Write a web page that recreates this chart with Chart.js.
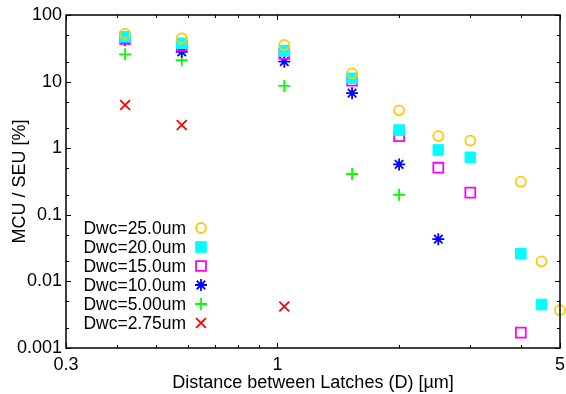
<!DOCTYPE html>
<html>
<head>
<meta charset="utf-8">
<script src="https://cdn.jsdelivr.net/npm/chart.js@4"></script>
<style>
  html, body { margin: 0; padding: 0; background: #fff; }
  #wrap { width: 566px; height: 394px; }
</style>
</head>
<body>
<div id="wrap"><canvas id="chart" width="566" height="394"></canvas></div>
<script>
// distance between latches (um), one column per measured distance
var distances = [0.42, 0.58, 1.04, 1.53, 2.0, 2.5, 3.0, 4.0, 4.5, 5.0];

// MCU / SEU ratio [%] for each well-contact distance
var dwc250 = [52, 44.7, 35.5, 13.3, 3.7, 1.52, 1.30, 0.314, 0.02, 0.0037];
var dwc200 = [47, 37.6, 29, 11.2, 1.87, 0.94, 0.73, 0.026, 0.0045, null];
var dwc150 = [43.6, 34.6, 26, 10.3, 1.52, 0.51, 0.215, 0.0017, null, null];
var dwc100 = [42, 28, 19.9, 6.7, 0.57, 0.043, null, null, null, null];
var dwc050 = [25.7, 21, 8.6, 0.41, 0.2, null, null, null, null, null];
var dwc275 = [4.45, 2.23, 0.0042, null, null, null, null, null, null, null];

var labels = ['Dwc=25.0um', 'Dwc=20.0um', 'Dwc=15.0um', 'Dwc=10.0um', 'Dwc=5.00um', 'Dwc=2.75um'];

// tick labels and minor ticks
var xTicks = [0.3, 1, 5];
var xMinor = [0.4, 0.5, 0.6, 0.7, 0.8, 0.9, 2, 3, 4];
var yTicks = [0.001, 0.01, 0.1, 1, 10, 100];
var yMinor = [0.002, 0.005, 0.02, 0.05, 0.2, 0.5, 2, 5, 20, 50];

var FONT = '"Liberation Sans", Arial, Helvetica, sans-serif';

function points(values) {
    var pts = [];
    for (var i = 0; i < distances.length; i++) {
        if (values[i] !== null) pts.push({x: distances[i], y: values[i]});
    }
    return pts;
}

function series(label, values, color, style, radius, filled, width) {
    return {
        label: label,
        data: points(values),
        pointStyle: style,
        pointRadius: radius,
        pointHoverRadius: radius,
        pointBorderColor: color,
        pointBackgroundColor: filled ? color : 'rgba(0,0,0,0)',
        pointBorderWidth: width,
        borderColor: color,
        backgroundColor: filled ? color : 'rgba(0,0,0,0)',
        showLine: false,
        clip: false
    };
}

// frame, inward ticks on all four sides
var framePlugin = {
    id: 'frame',
    afterDraw: function(chart) {
        var ctx = chart.ctx;
        var a = chart.chartArea;
        var xs = chart.scales.x, ys = chart.scales.y;
        ctx.save();
        ctx.strokeStyle = '#000';
        ctx.lineWidth = 1.5;
        ctx.strokeRect(a.left, a.top, a.right - a.left, a.bottom - a.top);
        ctx.lineWidth = 1;
        ctx.beginPath();
        function xt(v, len) {
            var p = Math.round(xs.getPixelForValue(v)) + 0.5;
            ctx.moveTo(p, a.bottom); ctx.lineTo(p, a.bottom - len);
            ctx.moveTo(p, a.top); ctx.lineTo(p, a.top + len);
        }
        function yt(v, len) {
            var p = Math.round(ys.getPixelForValue(v)) + 0.5;
            ctx.moveTo(a.left, p); ctx.lineTo(a.left + len, p);
            ctx.moveTo(a.right, p); ctx.lineTo(a.right - len, p);
        }
        xTicks.forEach(function(v) { xt(v, 5); });
        xMinor.forEach(function(v) { xt(v, 3); });
        yTicks.forEach(function(v) { yt(v, 5); });
        yMinor.forEach(function(v) { yt(v, 3); });
        ctx.stroke();
        ctx.restore();
    }
};

// key inside the plot, text right aligned with the marker after it
var keyPlugin = {
    id: 'key',
    afterDraw: function(chart) {
        var ctx = chart.ctx;
        ctx.save();
        ctx.font = '17.5px ' + FONT;
        ctx.textAlign = 'right';
        ctx.textBaseline = 'middle';
        chart.data.datasets.forEach(function(ds, i) {
            var y = 228 + i * 19;
            ctx.fillStyle = '#000';
            ctx.fillText(ds.label, 186, y + 1);
            ctx.strokeStyle = ds.pointBorderColor;
            ctx.fillStyle = ds.pointBackgroundColor;
            ctx.lineWidth = ds.pointBorderWidth;
            Chart.helpers.drawPoint(ctx, {
                pointStyle: ds.pointStyle,
                radius: ds.pointRadius,
                rotation: 0,
                borderWidth: ds.pointBorderWidth
            }, 201, y);
        });
        ctx.restore();
    }
};

new Chart(document.getElementById('chart'), {
    type: 'scatter',
    data: {
        datasets: [
            series(labels[0], dwc250, 'rgb(255,200,0)', 'circle', 5, false, 1.8),
            series(labels[1], dwc200, 'rgb(0,255,255)', 'rect', 7.5, true, 1),
            series(labels[2], dwc150, 'rgb(255,0,255)', 'rect', 7, false, 1.8),
            series(labels[3], dwc100, 'rgb(0,0,255)', 'star', 6, false, 1.8),
            series(labels[4], dwc050, 'rgb(0,255,0)', 'cross', 6, false, 1.8),
            series(labels[5], dwc275, 'rgb(255,0,0)', 'crossRot', 7, false, 1.8)
        ]
    },
    options: {
        responsive: false,
        animation: false,
        // point sizes would otherwise widen the right margin
        layout: { autoPadding: false, padding: { top: 15, right: 6, left: 0, bottom: 0 } },
        plugins: {
            legend: { display: false },
            tooltip: { enabled: false }
        },
        scales: {
            x: {
                type: 'logarithmic',
                min: 0.3,
                max: 5,
                afterBuildTicks: function(scale) {
                    scale.ticks = xTicks.map(function(v) { return {value: v}; });
                },
                afterFit: function(scale) {
                    scale.height = 46;
                    scale.paddingLeft = 0;
                    scale.paddingRight = 0;
                },
                grid: { display: false, drawTicks: false },
                border: { display: false },
                ticks: {
                    autoSkip: false,
                    maxRotation: 0,
                    padding: 6,
                    color: '#000',
                    font: { family: FONT, size: 18 },
                    callback: function(v) { return String(v); }
                },
                title: {
                    display: true,
                    text: 'Distance between Latches (D) [\u00b5m]',
                    color: '#000',
                    font: { family: FONT, size: 18 },
                    padding: { top: 0, bottom: 0 }
                }
            },
            y: {
                type: 'logarithmic',
                min: 0.001,
                max: 100,
                afterBuildTicks: function(scale) {
                    scale.ticks = yTicks.map(function(v) { return {value: v}; });
                },
                afterFit: function(scale) {
                    scale.width = 66;
                    scale.paddingTop = 0;
                    scale.paddingBottom = 0;
                },
                grid: { display: false, drawTicks: false },
                border: { display: false },
                ticks: {
                    autoSkip: false,
                    padding: 4,
                    color: '#000',
                    font: { family: FONT, size: 18 },
                    callback: function(v) { return String(v); }
                },
                title: {
                    display: true,
                    text: 'MCU / SEU [%]',
                    color: '#000',
                    font: { family: FONT, size: 18 },
                    padding: { top: 9, bottom: 0 }
                }
            }
        }
    },
    plugins: [framePlugin, keyPlugin]
});
</script>
</body>
</html>
